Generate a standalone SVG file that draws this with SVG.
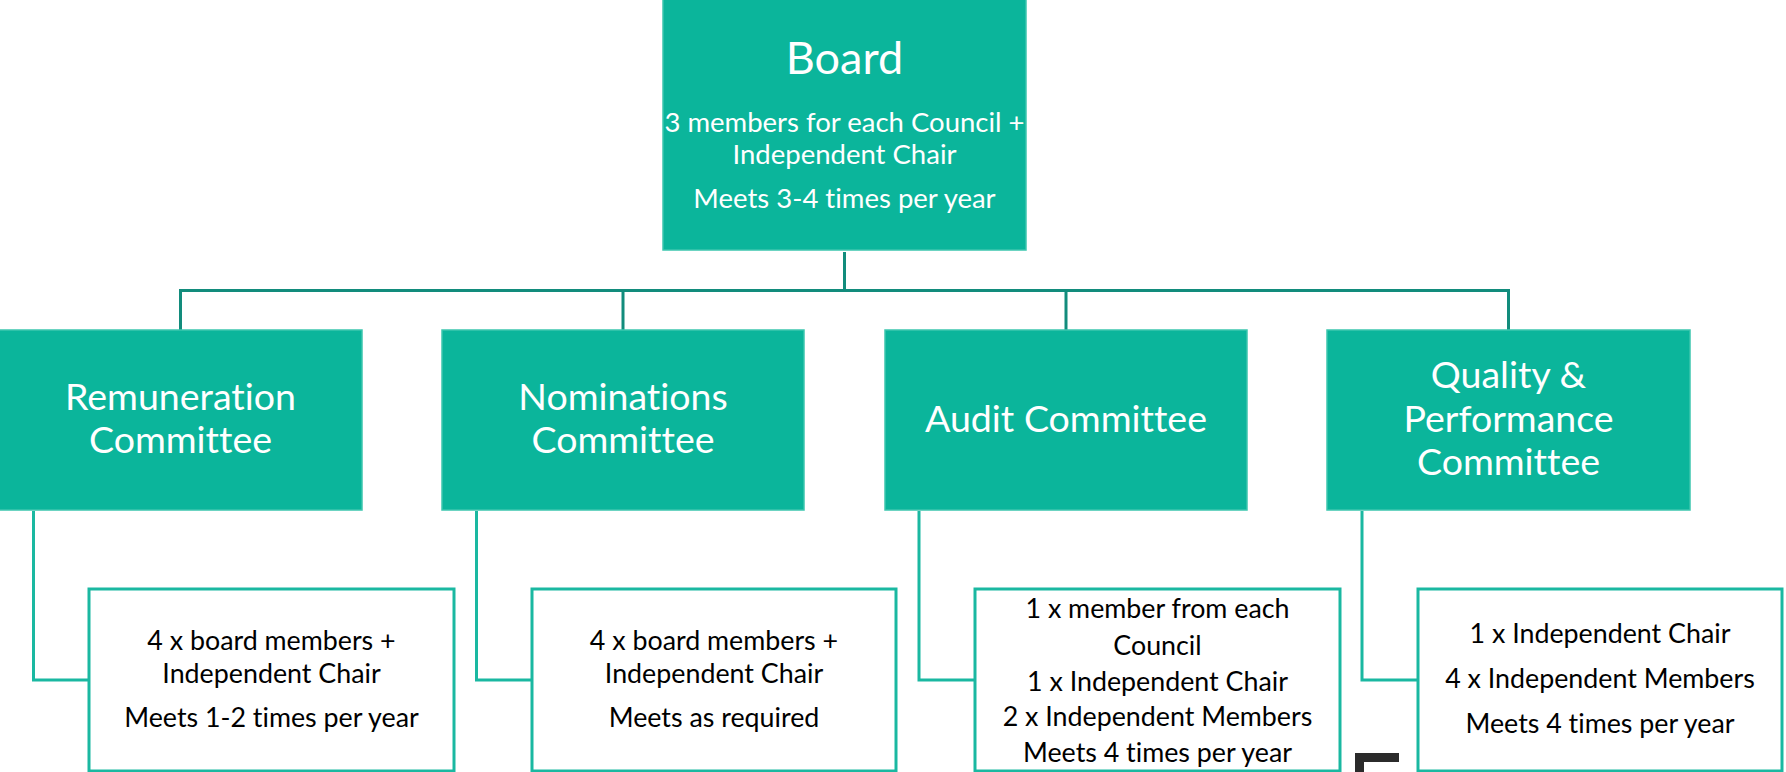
<svg xmlns="http://www.w3.org/2000/svg" width="1786" height="772" viewBox="0 0 1786 772">
<style>
.g{fill:#0bb59b;stroke:#3cc6ae;stroke-width:1.5}
.w{fill:#ffffff;stroke:#1ab8a1;stroke-width:3}
.ct{fill:none;stroke:#128c7c;stroke-width:3}
.cl{fill:none;stroke:#1ab8a1;stroke-width:3}
.t{font-family:Lato,"Open Sans",sans-serif;text-anchor:middle;font-variant-ligatures:none;font-feature-settings:"liga" 0,"dlig" 0}
.h{fill:#ffffff;font-size:37.5px}
.hb{fill:#ffffff;font-size:45px}
.s{fill:#ffffff;font-size:27.5px}
.b{fill:#000000;font-size:26.8px}
</style>
<rect width="1786" height="772" fill="#ffffff"/>
<g id="connectors">
<path class="ct" d="M844.5,252 V290.5 M180.5,290.5 H1508.5 M180.5,289 V330 M623,289 V330 M1066,289 V330 M1508.5,289 V330"/>
<path class="cl" d="M33.5,511 V680 H89 M476.5,511 V680 H532 M919,511 V680 H975 M1362,511 V680 H1418"/>
</g>
<g id="board">
<rect class="g" x="663" y="-2" width="363" height="252"/>
<text class="t hb" x="844.5" y="74">Board</text>
<text class="t s" x="844.5" y="132">3 members for each Council +</text>
<text class="t s" x="844.5" y="164">Independent Chair</text>
<text class="t s" x="844.5" y="208">Meets 3-4 times per year</text>
</g>
<g id="remuneration">
<rect class="g" x="-2" y="330" width="364" height="180"/>
<text class="t h" x="180.5" y="410">Remuneration</text>
<text class="t h" x="180.5" y="453">Committee</text>
</g>
<g id="nominations">
<rect class="g" x="442" y="330" width="362" height="180"/>
<text class="t h" x="623" y="410">Nominations</text>
<text class="t h" x="623" y="453">Committee</text>
</g>
<g id="audit">
<rect class="g" x="885" y="330" width="362" height="180"/>
<text class="t h" x="1066" y="432">Audit Committee</text>
</g>
<g id="quality">
<rect class="g" x="1327" y="330" width="363" height="180"/>
<text class="t h" x="1508.5" y="388">Quality &amp;</text>
<text class="t h" x="1508.5" y="432">Performance</text>
<text class="t h" x="1508.5" y="475">Committee</text>
</g>
<g id="remuneration-detail">
<rect class="w" x="89" y="589" width="365" height="182"/>
<text class="t b" x="271.5" y="650">4 x board members +</text>
<text class="t b" x="271.5" y="683">Independent Chair</text>
<text class="t b" x="271.5" y="727">Meets 1-2 times per year</text>
</g>
<g id="nominations-detail">
<rect class="w" x="532" y="589" width="364" height="182"/>
<text class="t b" x="714" y="650">4 x board members +</text>
<text class="t b" x="714" y="683">Independent Chair</text>
<text class="t b" x="714" y="727">Meets as required</text>
</g>
<g id="audit-detail">
<rect class="w" x="975" y="589" width="365" height="182"/>
<text class="t b" x="1157.5" y="618">1 x member from each</text>
<text class="t b" x="1157.5" y="655">Council</text>
<text class="t b" x="1157.5" y="691">1 x Independent Chair</text>
<text class="t b" x="1157.5" y="726">2 x Independent Members</text>
<text class="t b" x="1157.5" y="762">Meets 4 times per year</text>
</g>
<g id="quality-detail">
<rect class="w" x="1418" y="589" width="364" height="182"/>
<text class="t b" x="1600" y="643">1 x Independent Chair</text>
<text class="t b" x="1600" y="688">4 x Independent Members</text>
<text class="t b" x="1600" y="733">Meets 4 times per year</text>
</g>
<g id="fragment">
<rect x="1355" y="753" width="44" height="9" fill="#2b2b2b"/>
<rect x="1355" y="753" width="9" height="19" fill="#2b2b2b"/>
</g>
</svg>
